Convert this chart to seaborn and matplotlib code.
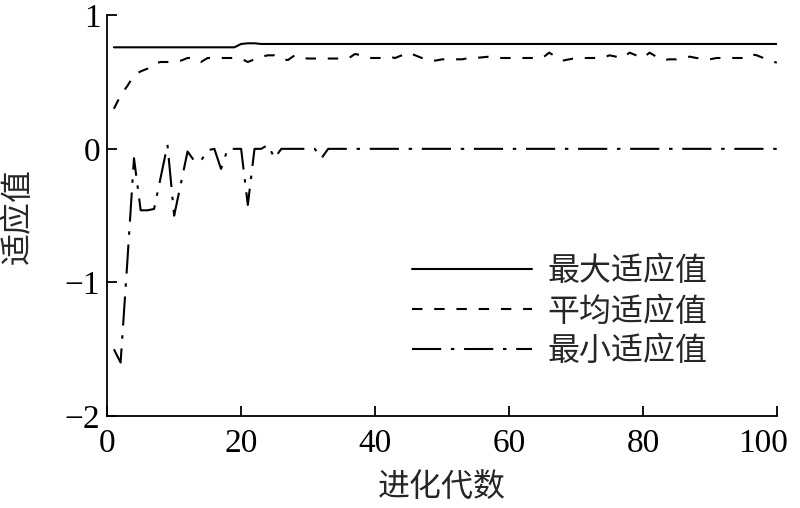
import numpy as np
import pandas as pd
import seaborn as sns
import matplotlib.transforms as mtrans
from matplotlib import pyplot as plt

# generations
gen = list(range(1, 101))

# best fitness per generation
max_fit = [0.76] * 19 + [0.785, 0.79, 0.79] + [0.785] * 78

# mean fitness per generation
mean_fit = [0.30, 0.40, 0.47, 0.55, 0.58, 0.60, 0.64, 0.65, 0.65, 0.65,
            0.66, 0.68, 0.68, 0.65, 0.68, 0.68, 0.68, 0.68, 0.68, 0.675,
            0.65, 0.67, 0.69, 0.70, 0.70, 0.67, 0.665, 0.70, 0.68, 0.676,
            0.676, 0.676, 0.676, 0.676, 0.676, 0.676, 0.71, 0.70, 0.68, 0.68,
            0.68, 0.69, 0.68, 0.70, 0.72, 0.70, 0.68, 0.68, 0.66, 0.67,
            0.67, 0.67, 0.67, 0.68, 0.68, 0.685, 0.69, 0.68, 0.68, 0.68,
            0.68, 0.68, 0.68, 0.68, 0.68, 0.72, 0.69, 0.66, 0.67, 0.68,
            0.68, 0.68, 0.68, 0.68, 0.70, 0.69, 0.68, 0.72, 0.70, 0.68,
            0.72, 0.69, 0.665, 0.67, 0.67, 0.68, 0.69, 0.68, 0.675, 0.67,
            0.68, 0.68, 0.68, 0.68, 0.68, 0.71, 0.70, 0.68, 0.66, 0.645]

# worst fitness per generation
min_fit = [-1.5, -1.6, -0.85, -0.07, -0.46, -0.46, -0.45, -0.21, 0.03, -0.5,
           -0.26, -0.02, -0.09, -0.09, -0.01, 0.0, -0.15, 0.0, 0.0, 0.0,
           -0.42, 0.0, 0.0, 0.03, -0.07, 0.0, 0.0, 0.0, 0.0, 0.0,
           0.0, -0.07] + [0.0] * 68

labels = ['最大适应值', '平均适应值', '最小适应值']
xticks = [0, 20, 40, 60, 80, 100]
yticks = [-2, -1, 0, 1]

df = pd.DataFrame({'gen': gen, 'max': max_fit, 'mean': mean_fit, 'min': min_fit})

sns.set_style('ticks')
plt.rcParams['font.family'] = ['Liberation Serif', 'Noto Sans CJK SC', 'DejaVu Sans']
plt.rcParams['lines.scale_dashes'] = False
plt.rcParams['axes.unicode_minus'] = True

fig = plt.figure(figsize=(8, 5.08), dpi=100)
ax = fig.add_axes([0.134, 0.181, 0.837, 0.789])

lw = 1.5
sns.lineplot(x='gen', y='max', data=df, ax=ax, color='black', lw=lw, linestyle='-', label=labels[0])
sns.lineplot(x='gen', y='mean', data=df, ax=ax, color='black', lw=lw, linestyle=(0, (7.5, 8.5)), label=labels[1])
sns.lineplot(x='gen', y='min', data=df, ax=ax, color='black', lw=lw, linestyle=(0, (21, 7, 2.5, 7)), label=labels[2])

ax.set_xlim(0, 100)
ax.set_ylim(-2, 1)
ax.set_xticks(xticks)
ax.set_yticks(yticks)
ax.tick_params(direction='in', length=7, width=1.3, colors='black', labelsize=24)
ax.tick_params(axis='x', pad=9)
ax.tick_params(axis='y', pad=5)
for s in ['left', 'bottom']:
    ax.spines[s].set_linewidth(1.3)
    ax.spines[s].set_color('black')
sns.despine(ax=ax)

# keep the last x tick label inside the figure
last = ax.get_xticklabels()[-1]
last.set_transform(last.get_transform() + mtrans.ScaledTranslation(-14 / 100, 0, fig.dpi_scale_trans))

ax.set_xlabel('进化代数', fontsize=23, labelpad=10)
ax.set_ylabel('适应值', fontsize=23, labelpad=22)

ax.legend(loc='center', bbox_to_anchor=(0.676, 0.259), frameon=False, fontsize=23,
          handlelength=3.75, handletextpad=0.5, labelspacing=0.3)

plt.savefig('out.png', dpi=100)
